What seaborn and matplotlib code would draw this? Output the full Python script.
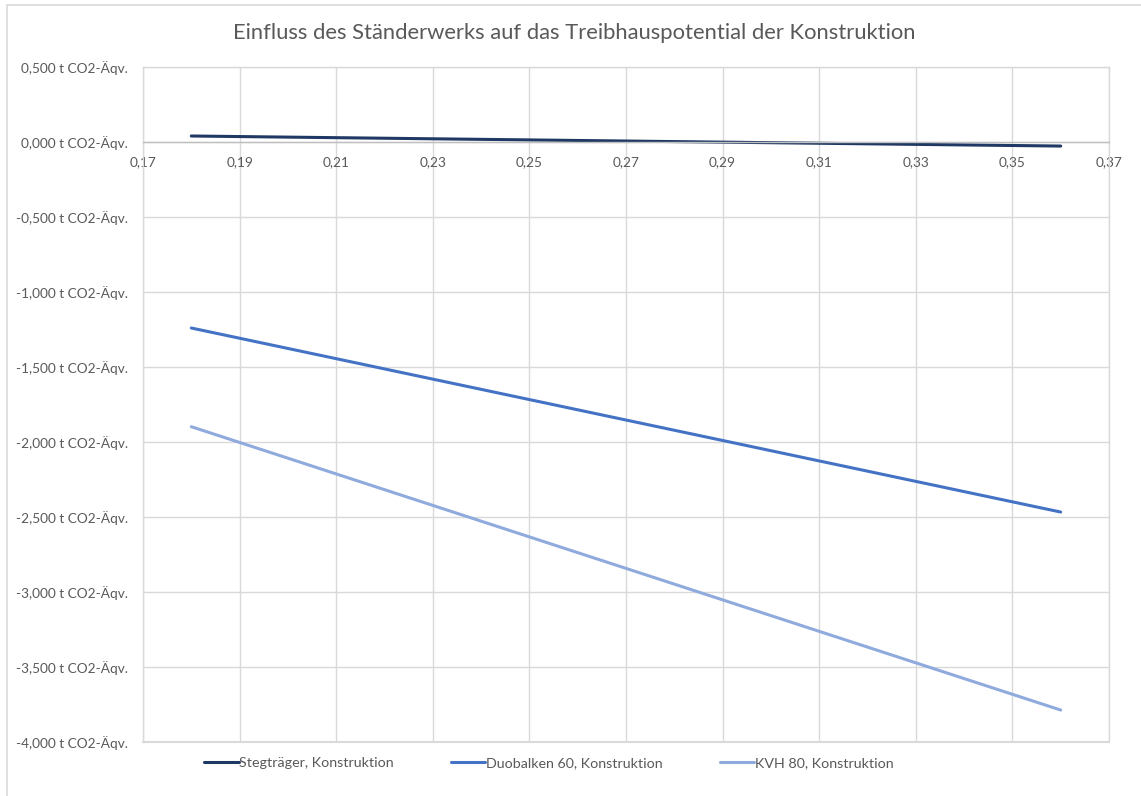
import matplotlib
matplotlib.use("Agg")
import matplotlib.pyplot as plt
from matplotlib.patches import Rectangle
from matplotlib.ticker import FuncFormatter, MultipleLocator
import pandas as pd
import seaborn as sns

# Wall stud thickness (m) and resulting global warming potential (t CO2-eq.)
staerke = [0.18, 0.36]
stegtraeger = [0.040, -0.027]
duobalken_60 = [-1.240, -2.467]
kvh_80 = [-1.898, -3.787]

serien = ["Stegträger, Konstruktion", "Duobalken 60, Konstruktion", "KVH 80, Konstruktion"]
farben = ["#1F3864", "#4472C4", "#8FAADC"]

df = pd.concat([
    pd.DataFrame({"x": staerke, "y": werte, "Serie": name})
    for name, werte in zip(serien, [stegtraeger, duobalken_60, kvh_80])
], ignore_index=True)

sns.set_theme(style="white")
plt.rcParams["font.family"] = ["Lato", "DejaVu Sans"]

W, H = 1141, 796
fig = plt.figure(figsize=(W / 100, H / 100), dpi=100)
ax = fig.add_axes([143 / W, 1 - 742 / H, (1109 - 143) / W, (742 - 67) / H])

sns.lineplot(data=df, x="x", y="y", hue="Serie", hue_order=serien,
             palette=farben, linewidth=2.2, ax=ax, legend=True, sort=False)

ax.set_xlim(0.17, 0.37)
ax.set_ylim(-4.0, 0.5)
ax.xaxis.set_major_locator(MultipleLocator(0.02, offset=0.01))
ax.yaxis.set_major_locator(MultipleLocator(0.5))
ax.xaxis.set_major_formatter(FuncFormatter(lambda v, p: f"{v:.2f}".replace(".", ",")))
ax.yaxis.set_major_formatter(FuncFormatter(
    lambda v, p: f"{v:.3f}".replace(".", ",").replace("-0,000", "0,000") + " t CO2-Äqv."))

grid_c = "#D9D9D9"
ax.grid(True, color=grid_c, linewidth=1.0)
ax.set_axisbelow(True)
for s in ["left", "right", "top"]:
    ax.spines[s].set_color(grid_c)
    ax.spines[s].set_linewidth(1.0)
ax.spines["bottom"].set_position(("data", 0))
ax.spines["bottom"].set_color("#BFBFBF")
ax.spines["bottom"].set_linewidth(1.0)
# bottom frame of the plot area
ax.axhline(-4.0, color=grid_c, linewidth=1.5, clip_on=False, zorder=0)

ax.tick_params(axis="both", length=0, labelsize=9.8, colors="#595959")
ax.tick_params(axis="y", pad=11)
ax.tick_params(axis="x", pad=10)
ax.set_xlabel("")
ax.set_ylabel("")

handles, labels = ax.get_legend_handles_labels()
ax.get_legend().remove()
fig.legend(handles, labels, loc="center", bbox_to_anchor=(549 / W, 1 - 763 / H),
           ncol=3, frameon=False, fontsize=10.3, handlelength=2.4, handletextpad=0.05,
           columnspacing=4.0, labelcolor="#595959")

fig.text(574 / W, 1 - 33 / H,
         "Einfluss des Ständerwerks auf das Treibhauspotential der Konstruktion",
         ha="center", va="center", fontsize=15.8, color="#595959")

# outer chart frame
fig.patches.append(Rectangle((7 / W, -0.05), 1.2, 1 - 5 / H + 0.05,
                             transform=fig.transFigure, fill=False,
                             edgecolor=grid_c, linewidth=1.2))

fig.savefig("out.png", dpi=100, facecolor="white")
